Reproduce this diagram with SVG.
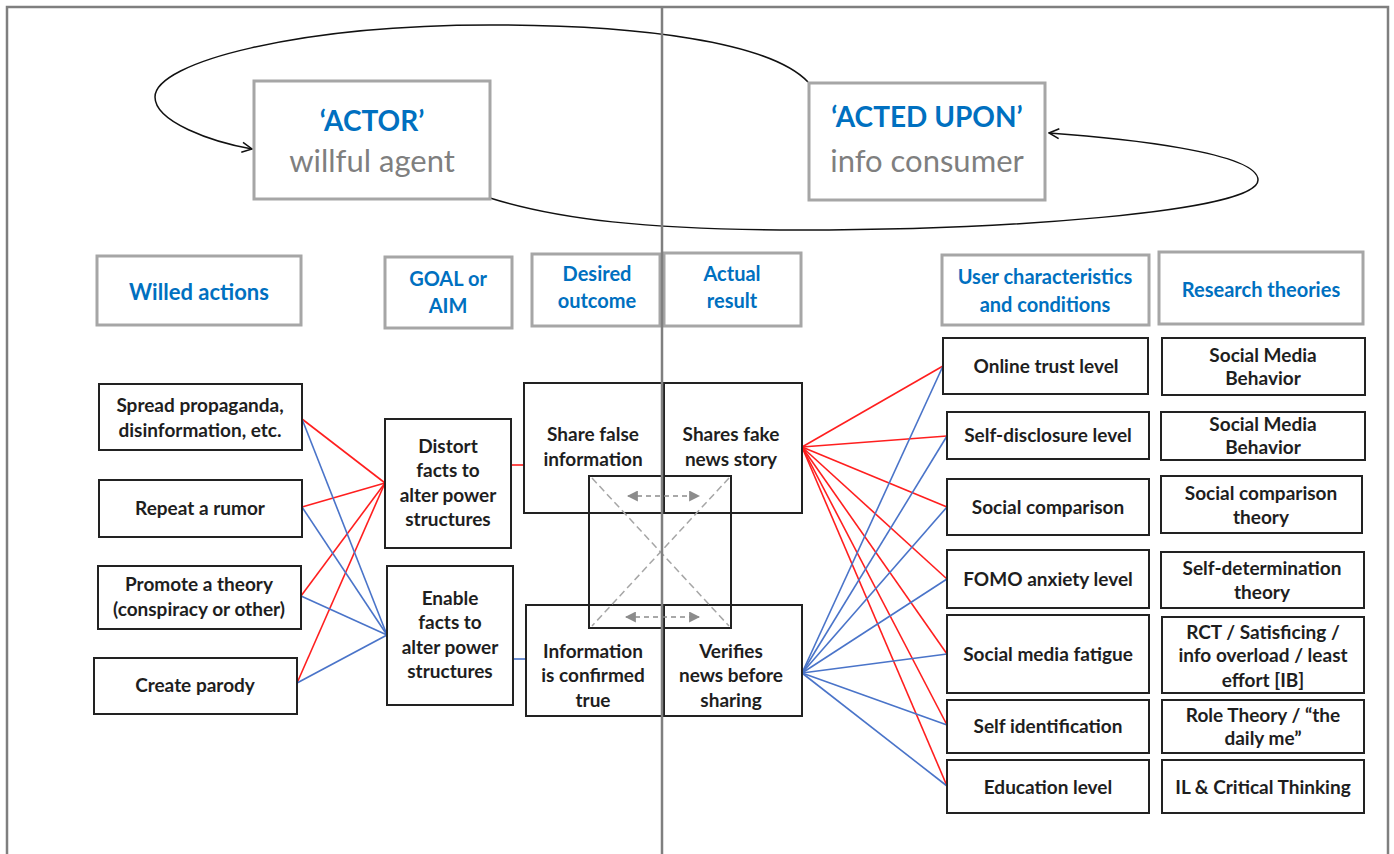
<svg xmlns="http://www.w3.org/2000/svg" width="1394" height="854" viewBox="0 0 1394 854">
<style>
.frame{fill:none;stroke:#7f7f7f;stroke-width:2.5}
.gbox{fill:#fff;stroke:#a6a6a6;stroke-width:3}
.box{fill:none;stroke:#222;stroke-width:2}
.t{font-family:Lato,"Liberation Sans",sans-serif;font-size:19px;font-weight:700;fill:#1e1e1e;text-anchor:middle}
.h{font-family:Lato,"Liberation Sans",sans-serif;font-size:20px;font-weight:700;fill:#0070c0;text-anchor:middle}
.bigb{font-family:Lato,"Liberation Sans",sans-serif;font-size:28px;font-weight:700;fill:#0070c0;text-anchor:middle}
.bigg{font-family:Lato,"Liberation Sans",sans-serif;font-size:31px;fill:#7f7f7f;text-anchor:middle}
.red{stroke:#ff1f1f;stroke-width:1.6;fill:none}
.blue{stroke:#4a74c9;stroke-width:1.6;fill:none}
.loop{stroke:#111;stroke-width:1.5;fill:none;marker-end:url(#open)}
.diag{stroke:#a6a6a6;stroke-width:1.5;stroke-dasharray:7 4;fill:none}
.darr{stroke:#8c8c8c;stroke-width:1.6;stroke-dasharray:5 4;fill:none;marker-start:url(#tri);marker-end:url(#tri)}
</style>
<defs>
<marker id="open" viewBox="0 0 12 12" refX="11" refY="6" markerWidth="12" markerHeight="12" markerUnits="userSpaceOnUse" orient="auto">
<path d="M1,1 L11,6 L1,11" fill="none" stroke="#111" stroke-width="1.5"/>
</marker>
<marker id="tri" viewBox="0 0 10 10" refX="9" refY="5" markerWidth="11" markerHeight="11" markerUnits="userSpaceOnUse" orient="auto-start-reverse">
<path d="M0,0 L10,5 L0,10 z" fill="#8c8c8c"/>
</marker>
</defs>
<rect width="1394" height="854" fill="#fff"/>
<rect class="frame" x="7" y="7" width="1381" height="860"/>

<g id="connectors">
<path class="loop" d="M808,82 C770,42 640,25 490,25 C300,25 155,62 155,97 C155,122 212,142 252,149"/>
<path class="loop" d="M490,198 C560,220 650,229 780,230 C1000,231 1258,212 1258,180 C1258,152 1120,138 1049,133"/>
<line class="red" x1="302" y1="419" x2="385" y2="483"/>
<line class="red" x1="302" y1="507" x2="385" y2="483"/>
<line class="red" x1="301" y1="596" x2="385" y2="483"/>
<line class="red" x1="297" y1="683" x2="385" y2="483"/>
<line class="blue" x1="302" y1="419" x2="387" y2="635"/>
<line class="blue" x1="302" y1="507" x2="387" y2="635"/>
<line class="blue" x1="301" y1="596" x2="387" y2="635"/>
<line class="blue" x1="297" y1="683" x2="387" y2="635"/>
<line class="red" x1="511" y1="465" x2="524" y2="465"/>
<line class="blue" x1="513" y1="659" x2="526" y2="659"/>
<line class="red" x1="802" y1="447" x2="943" y2="366"/>
<line class="red" x1="802" y1="447" x2="947" y2="436"/>
<line class="red" x1="802" y1="447" x2="947" y2="507"/>
<line class="red" x1="802" y1="447" x2="947" y2="579"/>
<line class="red" x1="802" y1="447" x2="947" y2="654"/>
<line class="red" x1="802" y1="447" x2="947" y2="725"/>
<line class="red" x1="802" y1="447" x2="947" y2="786"/>
<line class="blue" x1="802" y1="673" x2="943" y2="366"/>
<line class="blue" x1="802" y1="673" x2="947" y2="436"/>
<line class="blue" x1="802" y1="673" x2="947" y2="507"/>
<line class="blue" x1="802" y1="673" x2="947" y2="579"/>
<line class="blue" x1="802" y1="673" x2="947" y2="654"/>
<line class="blue" x1="802" y1="673" x2="947" y2="725"/>
<line class="blue" x1="802" y1="673" x2="947" y2="786"/>
</g>

<g id="actor"><rect class="gbox" x="254" y="81" width="236" height="118"/>
<text class="bigb" x="372" y="131">‘ACTOR’</text><text class="bigg" x="372" y="172">willful agent</text></g>
<g id="acted-upon"><rect class="gbox" x="809" y="83" width="236" height="117"/>
<text class="bigb" x="927" y="127">‘ACTED UPON’</text><text class="bigg" x="927" y="172">info consumer</text></g>

<g id="h-willed"><rect class="gbox" x="97" y="256" width="204" height="69"/><text class="h" x="199" y="300" style="font-size:22px">Willed actions</text></g>
<g id="h-goal"><rect class="gbox" x="385" y="257" width="127" height="71"/><text class="h" x="448" y="286">GOAL or</text><text class="h" x="448" y="313">AIM</text></g>
<g id="h-desired"><rect class="gbox" x="532" y="254" width="128" height="72"/><text class="h" x="597" y="281">Desired</text><text class="h" x="597" y="308">outcome</text></g>
<g id="h-actual"><rect class="gbox" x="664" y="253" width="137" height="73"/><text class="h" x="732" y="281">Actual</text><text class="h" x="732" y="308">result</text></g>
<g id="h-user"><rect class="gbox" x="942" y="255" width="207" height="70"/><text class="h" x="1045" y="284">User characteristics</text><text class="h" x="1045" y="312">and conditions</text></g>
<g id="h-research"><rect class="gbox" x="1159" y="252" width="204" height="72"/><text class="h" x="1261" y="297">Research theories</text></g>

<g id="spread"><rect class="box" x="99" y="384" width="203" height="66"/><text class="t" x="200" y="412">Spread propaganda,</text><text class="t" x="200" y="437">disinformation, etc.</text></g>
<g id="rumor"><rect class="box" x="99" y="480" width="203" height="57"/><text class="t" x="200" y="515">Repeat a rumor</text></g>
<g id="theory"><rect class="box" x="98" y="566" width="203" height="63"/><text class="t" x="199" y="591">Promote a theory</text><text class="t" x="199" y="616">(conspiracy or other)</text></g>
<g id="parody"><rect class="box" x="94" y="658" width="203" height="56"/><text class="t" x="195" y="692">Create parody</text></g>

<g id="distort"><rect class="box" x="385" y="419" width="126" height="129"/><text class="t" x="448" y="453">Distort</text><text class="t" x="448" y="477">facts to</text><text class="t" x="448" y="502">alter power</text><text class="t" x="448" y="526">structures</text></g>
<g id="enable"><rect class="box" x="387" y="566" width="126" height="139"/><text class="t" x="450" y="605">Enable</text><text class="t" x="450" y="629">facts to</text><text class="t" x="450" y="654">alter power</text><text class="t" x="450" y="678">structures</text></g>

<g id="share-false"><rect class="box" x="524" y="383" width="138" height="130"/><text class="t" x="593" y="441">Share false</text><text class="t" x="593" y="466">information</text></g>
<g id="shares-fake"><rect class="box" x="664" y="383" width="138" height="130"/><text class="t" x="731" y="441">Shares fake</text><text class="t" x="731" y="466">news story</text></g>
<g id="confirmed"><rect class="box" x="526" y="605" width="136" height="111"/><text class="t" x="593" y="658">Information</text><text class="t" x="593" y="682">is confirmed</text><text class="t" x="593" y="707">true</text></g>
<g id="verifies"><rect class="box" x="664" y="605" width="138" height="111"/><text class="t" x="731" y="658">Verifies</text><text class="t" x="731" y="682">news before</text><text class="t" x="731" y="707">sharing</text></g>

<g id="crossover">
<rect class="box" x="589" y="476" width="142" height="152"/>
<line class="diag" x1="592" y1="478" x2="729" y2="626"/>
<line class="diag" x1="729" y1="478" x2="592" y2="626"/>
<line class="darr" x1="628" y1="496" x2="699" y2="496"/>
<line class="darr" x1="626" y1="617" x2="699" y2="617"/>
</g>

<line x1="662" y1="7" x2="662" y2="854" stroke="#7f7f7f" stroke-width="2.5"/>

<g id="u-trust"><rect class="box" x="943" y="338" width="205" height="56"/><text class="t" x="1046" y="373">Online trust level</text></g>
<g id="u-disclosure"><rect class="box" x="947" y="412" width="202" height="47"/><text class="t" x="1048" y="442">Self-disclosure level</text></g>
<g id="u-comparison"><rect class="box" x="947" y="479" width="202" height="56"/><text class="t" x="1048" y="514">Social comparison</text></g>
<g id="u-fomo"><rect class="box" x="947" y="550" width="202" height="58"/><text class="t" x="1048" y="586">FOMO anxiety level</text></g>
<g id="u-fatigue"><rect class="box" x="947" y="615" width="202" height="78"/><text class="t" x="1048" y="661">Social media fatigue</text></g>
<g id="u-identification"><rect class="box" x="947" y="700" width="202" height="53"/><text class="t" x="1048" y="733">Self identification</text></g>
<g id="u-education"><rect class="box" x="947" y="760" width="202" height="53"/><text class="t" x="1048" y="794">Education level</text></g>

<g id="r-smb1"><rect class="box" x="1162" y="338" width="203" height="57"/><text class="t" x="1263" y="362">Social Media</text><text class="t" x="1263" y="385">Behavior</text></g>
<g id="r-smb2"><rect class="box" x="1161" y="412" width="204" height="48"/><text class="t" x="1263" y="431">Social Media</text><text class="t" x="1263" y="454">Behavior</text></g>
<g id="r-sct"><rect class="box" x="1161" y="476" width="201" height="57"/><text class="t" x="1261" y="500">Social comparison</text><text class="t" x="1261" y="524">theory</text></g>
<g id="r-sdt"><rect class="box" x="1161" y="552" width="203" height="56"/><text class="t" x="1262" y="575">Self-determination</text><text class="t" x="1262" y="599">theory</text></g>
<g id="r-rct"><rect class="box" x="1162" y="617" width="202" height="76"/><text class="t" x="1263" y="639">RCT / Satisficing /</text><text class="t" x="1263" y="662">info overload / least</text><text class="t" x="1263" y="687">effort [IB]</text></g>
<g id="r-role"><rect class="box" x="1162" y="700" width="202" height="53"/><text class="t" x="1263" y="722">Role Theory / “the</text><text class="t" x="1263" y="745">daily me”</text></g>
<g id="r-il"><rect class="box" x="1162" y="760" width="202" height="53"/><text class="t" x="1263" y="794">IL &amp; Critical Thinking</text></g>
</svg>
